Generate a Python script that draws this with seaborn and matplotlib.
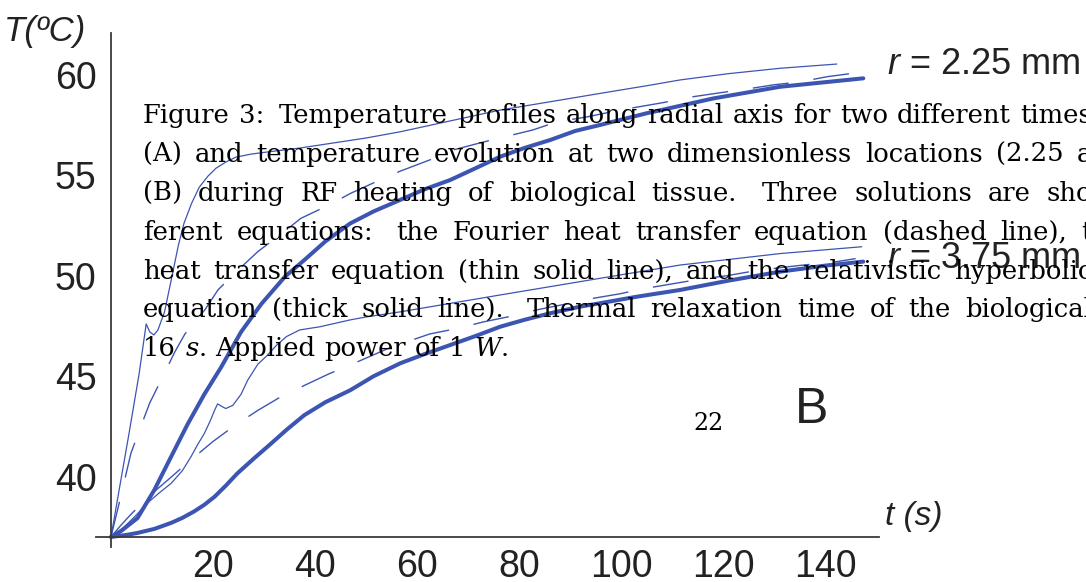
import numpy as np
import pandas as pd
import matplotlib
matplotlib.use("Agg")
import matplotlib.pyplot as plt
import seaborn as sns
from matplotlib.ticker import FixedLocator
from matplotlib.transforms import Affine2D

# ---------------- data ----------------
# r = 2.25 mm
t_225_four = [0, 2, 3.9, 5.7, 7.6, 10.2, 12.5, 14.5, 18.4, 21, 25, 28.8, 33.5, 37.2, 43, 47, 52.7,
              56.7, 62.5, 67, 73, 77, 82.7, 87.4, 93.3, 100, 108, 114, 119.4, 125, 130, 135, 140.4, 146.3]
T_225_four = [37, 39.1, 41.16, 42.4, 43.67, 45.0, 46.2, 47.1, 48.3, 49.3, 50.3, 51.2, 52.1, 52.85, 53.55,
              54.1, 54.76, 55.2, 55.76, 56.25, 56.65, 56.9, 57.25, 57.65, 57.9, 58.25, 58.6, 58.9, 59.1,
              59.3, 59.5, 59.64, 59.9, 60.1]
t_225_hyp = [0, 1.5, 3.5, 5.5, 6.9, 7.6, 8.4, 9.2, 10.5, 11.9, 13.2, 14.3, 15.8, 17.3, 19, 20.6, 22.5,
             24.5, 27.5, 30.5, 37, 43.5, 50, 56.7, 66.5, 76.3, 86, 95.9, 105, 111.6, 121, 131.2, 142.3]
T_225_hyp = [37, 39.2, 42.1, 45.1, 47.6, 47.2, 47.05, 47.3, 48.2, 49.9, 51.5, 52.6, 53.6, 54.4, 54.95,
             55.35, 55.65, 55.9, 56.05, 56.15, 56.35, 56.6, 56.85, 57.16, 57.7, 58.24, 58.65, 59.07,
             59.45, 59.74, 60.05, 60.32, 60.53]
t_225_rel = [0, 2, 5.2, 8.5, 11.8, 15, 18.3, 21.6, 25.5, 29.5, 34.1, 38, 42, 46.9, 51.5, 56.7, 61.5,
             66.5, 71.5, 76.3, 81, 86.1, 91, 95.9, 105, 118.1, 131.2, 147.5]
T_225_rel = [37, 37.3, 37.94, 39.34, 41.0, 42.6, 44.1, 45.45, 47.2, 48.6, 49.95, 50.8, 51.7, 52.6,
             53.2, 53.77, 54.3, 54.76, 55.35, 55.92, 56.35, 56.75, 57.2, 57.5, 58.08, 58.82, 59.4, 59.82]

# r = 3.75 mm
t_375_four = [0, 2, 4, 6, 8, 11.9, 15.5, 20, 24, 28.8, 32.8, 38, 42.6, 48.2, 55, 62.5, 68.4, 73, 78.8,
              83.5, 89.4, 94, 99.8, 104.4, 110.2, 114.9, 120.8, 125.3, 131.2, 136.5, 142.3, 146]
T_375_four = [37, 37.6, 38.15, 38.65, 39.15, 40.0, 40.8, 41.75, 42.5, 43.3, 43.9, 44.55, 45.1, 45.7,
              46.45, 47.1, 47.4, 47.7, 48.0, 48.3, 48.6, 48.85, 49.1, 49.35, 49.6, 49.8, 50.0, 50.2,
              50.4, 50.55, 50.7, 50.85]
t_375_hyp = [0, 2.6, 5, 7.2, 9.5, 11.8, 14, 15.7, 17, 18.3, 19.5, 20.3, 20.9, 21.7, 22.5, 23.9, 25.5,
             26.8, 28.8, 30.5, 32.5, 34.4, 37, 41, 46.9, 50.1, 56.7, 66.5, 76.3, 86, 95.9, 111.6,
             131.2, 147.2]
T_375_hyp = [37, 37.5, 38.1, 38.7, 39.2, 39.67, 40.3, 41.0, 41.6, 42.15, 42.8, 43.3, 43.62, 43.5,
             43.39, 43.55, 44.1, 44.8, 45.6, 46.0, 46.55, 46.97, 47.3, 47.46, 47.8, 47.95, 48.2,
             48.62, 49.04, 49.45, 49.87, 50.53, 51.1, 51.44]
t_375_rel = [0, 3, 5.2, 8.5, 11.8, 14, 16.3, 18.3, 20.3, 22.5, 24.8, 28, 31.4, 34.5, 37.9, 42, 46.9,
             51.5, 56.7, 61.5, 66.5, 71.5, 76.3, 81, 86.1, 92, 95.9, 103, 111.6, 121, 131.2, 140, 147.5]
T_375_rel = [37, 37.1, 37.2, 37.4, 37.7, 37.95, 38.27, 38.6, 39.0, 39.55, 40.17, 40.9, 41.65, 42.35,
             43.06, 43.7, 44.3, 45.0, 45.64, 46.1, 46.55, 47.0, 47.46, 47.8, 48.13, 48.46, 48.63,
             48.95, 49.29, 49.75, 50.2, 50.5, 50.7]

x_major = [20, 40, 60, 80, 100, 120, 140]
y_major = [40, 45, 50, 55, 60]

caption_lines = [
    "Figure 3: Temperature profiles along radial axis for two different times",
    "(A) and temperature evolution at two dimensionless locations (2.25 a",
    "(B) during RF heating of biological tissue.  Three solutions are sho",
    "ferent equations:  the Fourier heat transfer equation (dashed line), t",
    "heat transfer equation (thin solid line), and the relativistic hyperbolic",
    "equation (thick solid line). Thermal relaxation time of the biological",
]
caption_last = ["16", "$s$.", "Applied", "power", "of", "1", "$W$."]

# ---------------- style ----------------
sns.set_style("white")
plt.rcParams.update({
    "font.family": ["Liberation Sans", "DejaVu Sans"],
    "mathtext.fontset": "custom",
    "mathtext.rm": "DejaVu Serif",
    "mathtext.it": "DejaVu Serif:italic",
    "mathtext.sf": "Liberation Sans:italic",
})

W, H = 1086, 582
BLUE = "#3d55b2"
AXC = "#3a3a3a"
TXT = "#222222"

fig = plt.figure(figsize=(W / 100, H / 100), dpi=100)
fig.patch.set_facecolor("white")
ax = fig.add_axes([95.7 / W, (H - 547) / H, (878.6 - 95.7) / W, (547 - 32.5) / H])
ax.set_facecolor("white")

series = [
    (t_225_four, T_225_four, 1.0, (0, (26, 18))),
    (t_375_four, T_375_four, 1.0, (0, (26, 18))),
    (t_225_hyp, T_225_hyp, 0.9, "-"),
    (t_375_hyp, T_375_hyp, 0.9, "-"),
    (t_225_rel, T_225_rel, 2.9, "-"),
    (t_375_rel, T_375_rel, 2.9, "-"),
]
for tt, TT, lw, ls in series:
    df = pd.DataFrame({"t": tt, "T": TT})
    sns.lineplot(data=df, x="t", y="T", ax=ax, color=BLUE, lw=lw, linestyle=ls,
                 estimator=None, sort=False, errorbar=None)

ax.set_xlim(-3, 150.5)
ax.set_ylim(36.5, 62.1)
ax.set_xlabel("")
ax.set_ylabel("")

for s in ["top", "right"]:
    ax.spines[s].set_visible(False)
ax.spines["left"].set_position(("data", 0))
ax.spines["bottom"].set_position(("data", 37))
for s in ["left", "bottom"]:
    ax.spines[s].set_color(AXC)
    ax.spines[s].set_linewidth(1.3)

ax.set_xticks(x_major)
ax.set_yticks(y_major)
ax.xaxis.set_minor_locator(FixedLocator([v for v in range(5, 151, 5) if v not in x_major]))
ax.yaxis.set_minor_locator(FixedLocator([v for v in range(38, 60) if v not in y_major]))
ax.tick_params(which="both", direction="in", color=AXC, width=1.0)
ax.tick_params(which="major", length=7, labelsize=27, labelcolor=TXT)
ax.tick_params(axis="y", which="major", pad=10.5)
ax.tick_params(axis="x", which="major", pad=9)
ax.tick_params(which="minor", length=4.5)

pix = Affine2D().scale(1, -1).translate(0, H)

fig.text(4, 31, "T(ºC)", transform=pix, fontsize=25, style="italic", va="center", ha="left", color=TXT)
fig.text(885, 517, "t (s)", transform=pix, fontsize=24, style="italic", va="center", ha="left", color=TXT)
fig.text(887, 65, r"$\mathsf{r}$ = 2.25 mm", transform=pix, fontsize=26, va="center", ha="left", color=TXT)
fig.text(887, 258, r"$\mathsf{r}$ = 3.75 mm", transform=pix, fontsize=26, va="center", ha="left", color=TXT)
fig.text(795, 410, "B", transform=pix, fontsize=36, va="center", ha="left", color=TXT)
fig.text(693, 430, "22", transform=pix, fontsize=17, va="baseline", ha="left",
         family="DejaVu Serif", color="black")

# ---------------- caption (justified, word by word) ----------------
renderer = fig.canvas.get_renderer()
CAP_FS = 18.6
left, right = 143, 1092
baselines = [123, 162, 201, 240, 279, 317, 356]


def place_words(words, y, justify, space=8.5, weights=None):
    objs = []
    widths = []
    for w in words:
        t = fig.text(0, y, w, transform=pix, fontsize=CAP_FS, family="DejaVu Serif",
                     va="baseline", ha="left", color="black", zorder=10)
        objs.append(t)
        widths.append(t.get_window_extent(renderer).width)
    gaps = len(words) - 1
    if weights is None:
        weights = [1.0] * gaps
    if justify and gaps > 0:
        unit = (right - left - sum(widths)) / sum(weights)
    else:
        unit = space
    x = left
    for i, t in enumerate(objs):
        t.set_x(x)
        if i < gaps:
            x += widths[i] + unit * weights[i]


for line, y in zip(caption_lines, baselines):
    words = line.split()
    wts = [1.6 if (w.endswith(".") or w.endswith(":")) else 1.0 for w in words[:-1]]
    place_words(words, y, True, weights=wts)
place_words(caption_last, baselines[6], False, space=9)

fig.savefig("out.png", dpi=100, facecolor="white")
